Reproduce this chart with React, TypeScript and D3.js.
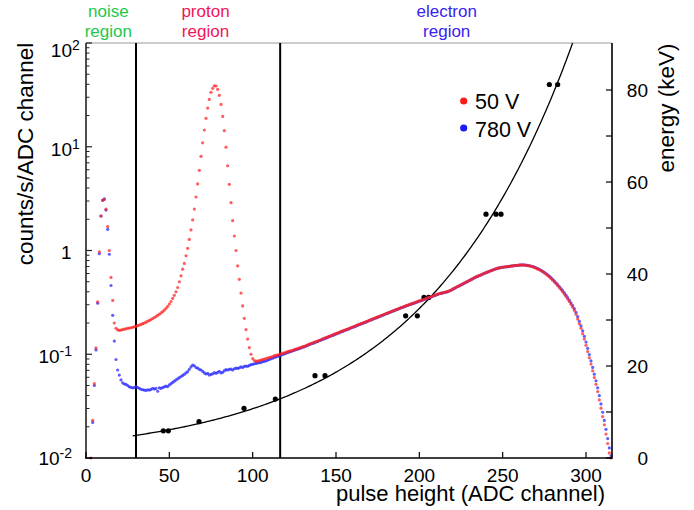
import React from 'react';
import * as d3 from 'd3';

// 50 V spectrum, counts/s/ADC channel, one value per ADC channel starting at red50Start
const red50Start = 3;
const red50 = [
  0.010, 0.023, 0.052, 0.115, 0.32, 0.97, 2.15, 3.05, 3.1, 2.5,
  1.7, 1.0, 0.55, 0.33, 0.20, 0.178, 0.172, 0.170, 0.171, 0.173,
  0.175, 0.176, 0.178, 0.179, 0.180, 0.182, 0.184, 0.186, 0.189, 0.191,
  0.194, 0.197, 0.200, 0.204, 0.208, 0.212, 0.216, 0.221, 0.226, 0.231,
  0.237, 0.243, 0.250, 0.257, 0.266, 0.277, 0.290, 0.305, 0.322, 0.345,
  0.37, 0.40, 0.44, 0.50, 0.57, 0.66, 0.75, 0.89, 1.05, 1.28,
  1.58, 1.97, 2.51, 3.28, 4.38, 5.93, 8.09, 10.9, 14.5, 18.8,
  23.6, 28.6, 33.5, 36.6, 38.7, 38.5, 35.8, 31.3, 25.6, 19.6,
  14.3, 9.9, 6.56, 4.34, 2.89, 1.94, 1.38, 1.0, 0.71, 0.527,
  0.389, 0.292, 0.222, 0.173, 0.140, 0.116, 0.100, 0.091, 0.087, 0.086,
  0.086, 0.087, 0.088, 0.089, 0.090, 0.091, 0.092, 0.093, 0.094, 0.095,
  0.0968, 0.0977, 0.0986, 0.0995, 0.101, 0.102, 0.103, 0.1045, 0.106, 0.107,
  0.108, 0.109, 0.111, 0.112, 0.1135, 0.115, 0.116, 0.118, 0.119, 0.121,
  0.123, 0.125, 0.127, 0.1285, 0.131, 0.132, 0.134, 0.1365, 0.138, 0.141,
  0.143, 0.145, 0.147, 0.149, 0.151, 0.154, 0.156, 0.158, 0.161, 0.163,
  0.166, 0.168, 0.170, 0.173, 0.175, 0.178, 0.181, 0.183, 0.186, 0.189,
  0.192, 0.1945, 0.197, 0.200, 0.203, 0.2065, 0.209, 0.212, 0.216, 0.219,
  0.222, 0.225, 0.229, 0.232, 0.2355, 0.239, 0.243, 0.246, 0.250, 0.2535,
  0.258, 0.261, 0.265, 0.269, 0.273, 0.277, 0.281, 0.285, 0.289, 0.293,
  0.297, 0.301, 0.3055, 0.309, 0.313, 0.318, 0.322, 0.327, 0.330, 0.335,
  0.340, 0.344, 0.349, 0.354, 0.359, 0.364, 0.369, 0.374, 0.379, 0.385,
  0.388, 0.391, 0.394, 0.398, 0.403, 0.409, 0.416, 0.424, 0.433, 0.442,
  0.450, 0.458, 0.467, 0.476, 0.485, 0.495, 0.505, 0.515, 0.525, 0.535,
  0.547, 0.556, 0.565, 0.574, 0.583, 0.593, 0.603, 0.612, 0.621, 0.631,
  0.640, 0.649, 0.658, 0.667, 0.675, 0.681, 0.686, 0.690, 0.693, 0.697,
  0.700, 0.705, 0.708, 0.711, 0.715, 0.718, 0.721, 0.724, 0.726, 0.726,
  0.724, 0.721, 0.716, 0.711, 0.705, 0.697, 0.687, 0.676, 0.664, 0.652,
  0.638, 0.624, 0.608, 0.592, 0.574, 0.556, 0.537, 0.518, 0.498, 0.479,
  0.459, 0.440, 0.420, 0.400, 0.380, 0.361, 0.341, 0.322, 0.303, 0.284,
  0.265, 0.243, 0.219, 0.197, 0.178, 0.158, 0.140, 0.122, 0.106, 0.0923,
  0.0804, 0.0692, 0.0596, 0.0513, 0.0437, 0.0363, 0.0302, 0.0251, 0.0209, 0.0170,
  0.0138, 0.0112, 0.0100,
];

// 780 V spectrum, starting at blue780Start
const blue780Start = 4;
const blue780 = [
  0.022, 0.050, 0.110, 0.31, 0.93, 2.15, 3.05, 3.15, 2.45, 1.6,
  0.92, 0.46, 0.237, 0.134, 0.089, 0.0705, 0.063, 0.0565, 0.053, 0.0517,
  0.0512, 0.050, 0.0485, 0.048, 0.0475, 0.0478, 0.0486, 0.0478, 0.047, 0.046,
  0.0455, 0.0452, 0.0448, 0.0455, 0.0452, 0.0458, 0.047, 0.0462, 0.0468, 0.0440,
  0.0475, 0.0468, 0.0478, 0.0485, 0.0492, 0.0488, 0.0506, 0.052, 0.0535, 0.055,
  0.0565, 0.058, 0.0595, 0.061, 0.0625, 0.064, 0.066, 0.068, 0.0715, 0.0755,
  0.0785, 0.0775, 0.0745, 0.0735, 0.0715, 0.0705, 0.0685, 0.066, 0.0645, 0.0655,
  0.063, 0.064, 0.0648, 0.0665, 0.0655, 0.067, 0.0685, 0.066, 0.067, 0.0695,
  0.071, 0.0705, 0.0715, 0.072, 0.0705, 0.0725, 0.0735, 0.073, 0.074, 0.0755,
  0.0745, 0.0765, 0.077, 0.0765, 0.078, 0.0795, 0.080, 0.081, 0.0815, 0.0825,
  0.083, 0.0835, 0.085, 0.0855, 0.0865, 0.0875, 0.089, 0.0905, 0.0915, 0.0935,
  0.0945, 0.0955, 0.0965, 0.098, 0.0995, 0.101, 0.102, 0.104, 0.105, 0.1065,
  0.108, 0.109, 0.111, 0.112, 0.1135, 0.115, 0.117, 0.118, 0.120, 0.122,
  0.124, 0.126, 0.127, 0.129, 0.131, 0.133, 0.135, 0.137, 0.139, 0.141,
  0.143, 0.145, 0.148, 0.150, 0.152, 0.154, 0.157, 0.159, 0.161, 0.164,
  0.166, 0.169, 0.171, 0.174, 0.176, 0.179, 0.182, 0.184, 0.187, 0.190,
  0.193, 0.196, 0.198, 0.202, 0.204, 0.208, 0.211, 0.214, 0.217, 0.221,
  0.224, 0.227, 0.231, 0.234, 0.237, 0.241, 0.245, 0.248, 0.252, 0.256,
  0.260, 0.263, 0.268, 0.271, 0.275, 0.280, 0.283, 0.287, 0.292, 0.295,
  0.300, 0.303, 0.308, 0.311, 0.316, 0.320, 0.325, 0.328, 0.333, 0.338,
  0.342, 0.347, 0.352, 0.357, 0.362, 0.367, 0.372, 0.377, 0.383, 0.386,
  0.390, 0.393, 0.397, 0.401, 0.407, 0.414, 0.422, 0.431, 0.440, 0.449,
  0.457, 0.466, 0.475, 0.484, 0.494, 0.503, 0.513, 0.523, 0.533, 0.544,
  0.555, 0.564, 0.573, 0.582, 0.592, 0.601, 0.611, 0.620, 0.630, 0.639,
  0.648, 0.657, 0.666, 0.674, 0.680, 0.685, 0.689, 0.693, 0.696, 0.699,
  0.704, 0.707, 0.710, 0.714, 0.717, 0.720, 0.723, 0.725, 0.726, 0.725,
  0.722, 0.718, 0.713, 0.708, 0.701, 0.692, 0.682, 0.670, 0.658, 0.645,
  0.631, 0.616, 0.600, 0.583, 0.565, 0.547, 0.528, 0.508, 0.489, 0.469,
  0.450, 0.430, 0.410, 0.390, 0.371, 0.351, 0.332, 0.313, 0.294, 0.275,
  0.254, 0.231, 0.208, 0.188, 0.168, 0.149, 0.131, 0.114, 0.0992, 0.0862,
  0.0746, 0.0643, 0.0554, 0.0475, 0.0400, 0.0332, 0.0276, 0.0230, 0.0189, 0.0154,
  0.0125, 0.0105,
];

// energy calibration points (ADC channel -> keV)
const calibChannel = [46.4, 49.4, 67.8, 94.8, 113.6, 137.4, 143.4, 191.8, 198.8, 202.8, 205.6, 240, 246, 249, 278, 283];
const calibEnergy = [5.9, 5.9, 7.9, 10.8, 12.8, 17.9, 17.9, 30.9, 30.9, 34.9, 34.9, 53.0, 53.0, 53.0, 81.2, 81.2];

// exponential calibration fit E = fitA * exp(fitB * channel)
const fitA = 3.53;
const fitB = 0.0111;
const fitStart = 28;

const regionBounds = [30, 116.5];
const xTicks = [0, 50, 100, 150, 200, 250, 300];
const yDecades = [-2, -1, 0, 1, 2];
const energyTicks = [0, 20, 40, 60, 80];
const energyMinor = [10, 30, 50, 70];
const legendLabels = ['50 V', '780 V'];

export default function App() {
  const W = 694, H = 510;
  const L = 86, R = 612, T = 43, B = 458;
  const x = d3.scaleLinear().domain([0, 315.6]).range([L, R]);
  const y = d3.scaleLog().domain([0.01, 100]).range([B, T]);
  const e = d3.scaleLinear().domain([0, 90.22]).range([B, T]);
  const font = '"Liberation Sans", Arial, Helvetica, sans-serif';

  const redPts = red50.map((v, i) => ({ c: red50Start + i, v }));
  const bluePts = blue780.map((v, i) => ({ c: blue780Start + i, v }));

  const minorY: number[] = [];
  for (let d = -2; d < 2; d++) for (let k = 2; k <= 9; k++) minorY.push(k * Math.pow(10, d));

  const fitCh = d3.range(fitStart, 300, 1);
  const fitPath = d3.line<number>().x(c => x(c)).y(c => e(fitA * Math.exp(fitB * c)))(fitCh) || '';

  const labelOffset: Record<number, number> = { [-2]: 7, [-1]: 8.3, 0: 8, 1: 9.5, 2: 13.5 };

  return (
    <svg width={W} height={H} style={{ position: 'absolute', left: 0, top: 0, display: 'block', background: '#fff' }} fontFamily={font}>
      <defs>
        <clipPath id="plotClip">
          <rect x={L} y={T} width={R - L} height={B - T} />
        </clipPath>
      </defs>

      {/* region labels */}
      <g fontSize={17} textAnchor="middle">
        <text x={108.3} y={16.5} fill="#1ec84a">noise</text>
        <text x={108.3} y={36.5} fill="#1ec84a">region</text>
        <text x={205.5} y={16.5} fill="#f0145a">proton</text>
        <text x={205.5} y={36.5} fill="#f0145a">region</text>
        <text x={446.7} y={16.5} fill="#3a22f0">electron</text>
        <text x={446.7} y={36.5} fill="#3a22f0">region</text>
      </g>

      {/* frame */}
      <line x1={L} x2={R} y1={T} y2={T} stroke="#9a9a9a" strokeWidth={1.2} />

      {/* region boundaries */}
      {regionBounds.map((c, i) => (
        <line key={i} x1={x(c)} x2={x(c)} y1={T} y2={B} stroke="#000" strokeWidth={2} />
      ))}

      {/* fit curve */}
      <g clipPath="url(#plotClip)">
        <path d={fitPath} fill="none" stroke="#000" strokeWidth={1.3} />
      </g>

      {/* calibration points */}
      {calibChannel.map((c, i) => (
        <circle key={i} cx={x(c)} cy={e(calibEnergy[i])} r={2.6} fill="#000" />
      ))}

      {/* spectra */}
      <g fill="#2a2aff" fillOpacity={0.75}>
        {bluePts.map(p => <circle key={p.c} cx={x(p.c)} cy={y(p.v)} r={1.6} />)}
      </g>
      <g fill="#ff2020" fillOpacity={0.72}>
        {redPts.map(p => <circle key={p.c} cx={x(p.c)} cy={y(p.v)} r={1.6} />)}
      </g>

      {/* left axis */}
      <line x1={L} x2={L} y1={T} y2={B} stroke="#222" strokeWidth={1.6} />
      {minorY.map((v, i) => (
        <line key={i} x1={L} x2={L + 3.5} y1={y(v)} y2={y(v)} stroke="#222" strokeWidth={1} />
      ))}
      {yDecades.map(d => (
        <line key={d} x1={L} x2={L + 6} y1={y(Math.pow(10, d))} y2={y(Math.pow(10, d))} stroke="#222" strokeWidth={1.2} />
      ))}
      <g fontSize={19} fill="#000">
        {yDecades.map(d => {
          const ty = y(Math.pow(10, d)) + labelOffset[d];
          if (d === 0) return <text key={d} x={71.5} y={ty} textAnchor="end">1</text>;
          if (d > 0) return (
            <g key={d}>
              <text x={72} y={ty} textAnchor="end">10</text>
              <text x={72} y={ty - 7} fontSize={14}>{String(d)}</text>
            </g>
          );
          return (
            <text key={d} x={72} y={ty} textAnchor="end">10<tspan dy={-7} fontSize={14}>{'-' + String(-d)}</tspan></text>
          );
        })}
      </g>

      {/* bottom axis */}
      <line x1={L - 1} x2={R} y1={B} y2={B} stroke="#000" strokeWidth={1.6} />
      {xTicks.map(t => (
        <line key={t} x1={x(t)} x2={x(t)} y1={B} y2={B - 6} stroke="#000" strokeWidth={1.2} />
      ))}
      <g fontSize={19} textAnchor="middle" fill="#000">
        {xTicks.map(t => <text key={t} x={x(t)} y={481.5}>{t}</text>)}
      </g>
      <text x={605} y={501} fontSize={22} textAnchor="end">pulse height (ADC channel)</text>

      {/* right axis */}
      <line x1={R} x2={R} y1={T} y2={B + 0.8} stroke="#000" strokeWidth={1.6} />
      {energyTicks.concat(energyMinor).map(t => (
        <line key={t} x1={R} x2={R - 6} y1={e(t)} y2={e(t)} stroke="#000" strokeWidth={1.2} />
      ))}
      <g fontSize={19} textAnchor="end" fill="#000">
        {energyTicks.map(t => <text key={t} x={648} y={e(t) + 6.8}>{t}</text>)}
      </g>

      {/* axis titles */}
      <text transform="translate(33,154) rotate(-90)" fontSize={22.5} textAnchor="middle">counts/s/ADC channel</text>
      <text transform="translate(674,108) rotate(-90)" fontSize={22.5} textAnchor="middle">energy (keV)</text>

      {/* legend */}
      <circle cx={463.7} cy={101} r={3.6} fill="#ff1a1a" />
      <text x={475} y={109.3} fontSize={21.5}>{legendLabels[0]}</text>
      <circle cx={463.7} cy={128} r={3.6} fill="#1a1aff" />
      <text x={475} y={136.7} fontSize={21.5}>{legendLabels[1]}</text>
    </svg>
  );
}
